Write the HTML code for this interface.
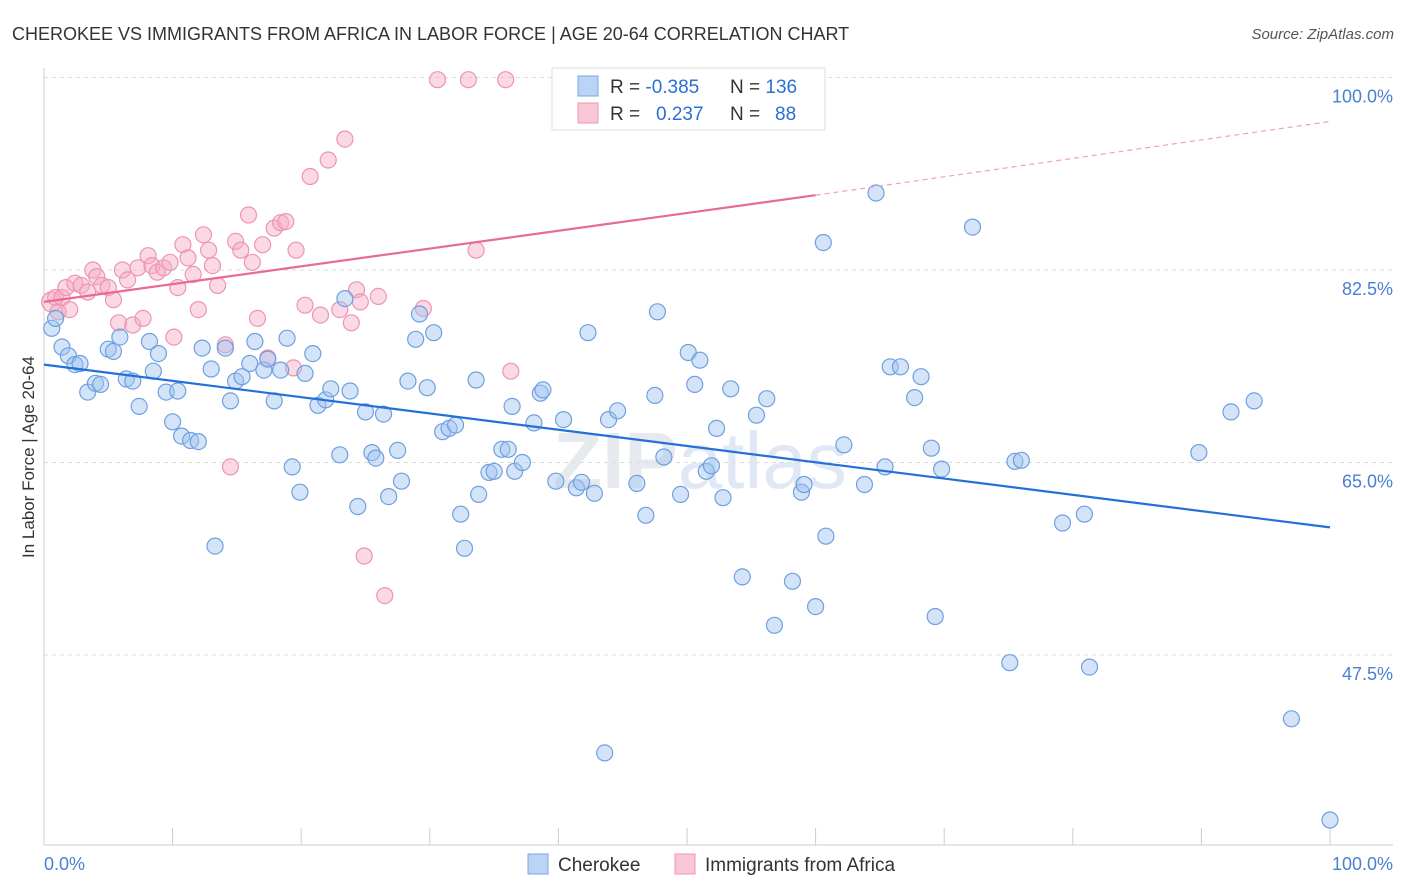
<!DOCTYPE html>
<html><head><meta charset="utf-8">
<style>
body{margin:0;background:#fff;font-family:"Liberation Sans",sans-serif;}
#wrap{position:relative;width:1406px;height:892px;overflow:hidden;}
</style></head>
<body>
<div id="wrap">
<svg id="chart" width="1406" height="892" xmlns="http://www.w3.org/2000/svg">
<text x="12" y="40" font-size="18" fill="#333">CHEROKEE VS IMMIGRANTS FROM AFRICA IN LABOR FORCE | AGE 20-64 CORRELATION CHART</text>
<text x="1394" y="39" font-size="15" fill="#555" font-style="italic" text-anchor="end">Source: ZipAtlas.com</text>
<text x="700" y="488" font-size="80" fill="#e6e9ee" text-anchor="middle" font-weight="bold">ZIP<tspan font-weight="normal" fill="#dfe8f4">atlas</tspan></text>
<g id="grid"></g>
<g id="axes"></g>
<g id="pinkpts"></g>
<g id="bluepts"></g>
<g id="lines"></g>
<text transform="translate(34,457) rotate(-90)" font-size="17" fill="#333" text-anchor="middle">In Labor Force | Age 20-64</text>
<text x="44" y="870" font-size="18" fill="#4a7fd4">0.0%</text>
<text x="1393" y="870" font-size="18" fill="#4a7fd4" text-anchor="end">100.0%</text>
<g>
<rect x="552" y="68" width="273" height="62" fill="#fff" stroke="#ddd"/>
<rect x="578" y="76" width="20" height="20" fill="#bcd4f4" stroke="#7aa6e6"/>
<rect x="578" y="103" width="20" height="20" fill="#f8c6d5" stroke="#ee94b2"/>
<text x="610" y="93" font-size="19" fill="#333">R = <tspan fill="#2a6fd6">-0.385</tspan><tspan x="730">N = </tspan><tspan fill="#2a6fd6">136</tspan></text>
<text x="610" y="120" font-size="19" fill="#333">R = <tspan x="656" fill="#2a6fd6">0.237</tspan><tspan x="730">N = </tspan><tspan x="775" fill="#2a6fd6">88</tspan></text>
</g>
<g>
<rect x="528" y="854" width="20" height="20" fill="#bcd4f4" stroke="#7aa6e6"/>
<text x="558" y="871" font-size="19" fill="#333">Cherokee</text>
<rect x="675" y="854" width="20" height="20" fill="#f8c6d5" stroke="#ee94b2"/>
<text x="705" y="871" font-size="19" fill="#333">Immigrants from Africa</text>
</g>
</svg>
</div>
<script>
const yTicks=[100,82.5,65,47.5];
const yTickLabels=["100.0%","82.5%","65.0%","47.5%"];
const xTicks=[0,10,20,30,40,50,60,70,80,90,100];
const blueX=[0.6,0.9,1.4,1.9,2.4,2.8,3.4,4.0,4.4,5.0,5.4,5.9,6.4,6.9,7.4,8.2,8.5,8.9,9.5,10.0,10.4,10.7,11.4,12.0,12.3,13.0,13.3,14.1,14.5,14.9,15.4,16.0,16.4,17.1,17.4,17.9,18.4,18.9,19.3,19.9,20.3,20.9,21.3,21.9,22.3,23.0,23.4,23.8,24.4,25.0,25.5,25.8,26.4,26.8,27.5,27.8,28.3,28.9,29.2,29.8,30.3,31.0,31.5,32.0,32.4,32.7,33.6,33.8,34.6,35.0,35.6,36.1,36.4,36.6,37.2,38.1,38.6,38.8,39.8,40.4,41.4,41.8,42.3,42.8,43.6,43.9,44.6,44.8,46.1,46.8,47.5,47.7,48.2,49.5,50.1,50.6,51.0,51.5,51.9,52.3,52.8,53.4,53.8,54.3,55.4,56.2,56.8,58.2,58.9,59.1,60.0,60.6,60.8,62.2,63.8,64.7,65.4,65.8,66.6,67.7,68.2,69.0,69.3,69.8,72.2,75.1,75.5,76.0,79.2,80.9,81.3,89.8,92.3,94.1,97.0,100];
const blueY=[77.2,78.1,75.5,74.7,73.9,74.0,71.4,72.2,72.1,75.3,75.1,76.4,72.6,72.4,70.1,76.0,73.3,74.9,71.4,68.7,71.5,67.4,67.0,66.9,75.4,73.5,57.4,75.4,70.6,72.4,72.8,74.0,76.0,73.4,74.4,70.6,73.4,76.3,64.6,62.3,73.1,74.9,70.2,70.7,71.7,65.7,79.9,71.5,61.0,69.6,65.9,65.4,69.4,61.9,66.1,63.3,72.4,76.2,78.5,71.8,76.8,67.8,68.1,68.4,60.3,57.2,72.5,62.1,64.1,64.2,66.2,66.2,70.1,64.2,65.0,68.6,71.3,71.6,63.3,68.9,62.7,63.2,76.8,62.2,38.6,68.9,69.7,99.8,63.1,60.2,71.1,78.7,65.5,62.1,75.0,72.1,74.3,64.2,64.7,68.1,61.8,71.7,99.8,54.6,69.3,70.8,50.2,54.2,62.3,63.0,51.9,85.0,58.3,66.6,63.0,89.5,64.6,73.7,73.7,70.9,72.8,66.3,51.0,64.4,86.4,46.8,65.1,65.2,59.5,60.3,46.4,65.9,69.6,70.6,41.7,32.5];
const pinkX=[0.6,0.9,1.1,1.4,1.7,2.0,2.4,2.9,3.4,3.8,4.1,4.5,5.0,5.4,5.8,6.1,6.5,6.9,7.3,7.7,8.1,8.4,8.8,9.3,9.8,10.1,10.4,10.8,11.2,11.6,12.0,12.4,12.8,13.1,13.5,14.1,14.5,14.9,15.3,15.9,16.2,16.6,17.0,17.4,17.9,18.4,18.8,19.4,19.6,20.3,20.7,21.5,22.1,23.0,23.4,23.9,24.3,24.6,24.9,26.0,26.5,29.5,30.6,33.0,33.6,35.9,36.3];
const pinkY=[79.6,80.0,78.7,80.0,80.9,78.9,81.3,81.1,80.5,82.5,81.9,81.1,80.9,79.8,77.7,82.5,81.6,77.5,82.7,78.1,83.8,82.9,82.3,82.7,83.2,76.4,80.9,84.8,83.6,82.1,78.9,85.7,84.3,82.9,81.1,75.7,64.6,85.1,84.3,87.5,83.2,78.1,84.8,74.5,86.3,86.8,86.9,73.6,84.3,79.3,91.0,78.4,92.5,78.9,94.4,77.7,80.7,79.6,56.5,80.1,52.9,79.0,99.8,99.8,84.3,99.8,73.3];
const blueTrend=[73.9,59.1];
const pinkTrend=[79.6,89.3,96.0];

const NS="http://www.w3.org/2000/svg";
const X0=44,X1=1330,YT=77.5,PX=11;
function sx(v){return X0+(X1-X0)*v/100;}
function sy(v){return YT+(100-v)*PX;}
function mk(tag,attrs,parent){const e=document.createElementNS(NS,tag);for(const k in attrs)e.setAttribute(k,attrs[k]);parent.appendChild(e);return e;}
const grid=document.getElementById('grid');
yTicks.forEach((t,i)=>{
  const l=mk('line',{x1:44,x2:1393,y1:sy(t),y2:sy(t),stroke:'#ddd','stroke-dasharray':'4,4'},grid);
  
  
  const tx=mk('text',{x:1393,y:sy(t)+25,'font-size':18,fill:'#4a7fd4','text-anchor':'end'},grid);
  tx.textContent=yTickLabels[i];
  
  
});
const axes=document.getElementById('axes');
let a=mk('line',{x1:44,x2:1393,y1:845,y2:845,stroke:'#ccc'},axes);


a=mk('line',{x1:44,x2:44,y1:68,y2:845,stroke:'#ccc'},axes);


xTicks.forEach(t=>{
  const l=mk('line',{x1:sx(t),x2:sx(t),y1:828,y2:845,stroke:'#ccc'},axes);
  
  
});
const pp=document.getElementById('pinkpts');
pinkX.forEach((x,i)=>{
  const c=mk('circle',{cx:sx(x),cy:sy(pinkY[i]),r:i==0?10:8,fill:'rgba(244,170,195,0.45)',stroke:'#ee94b2','stroke-width':1.2},pp);
  
  
});
const bp=document.getElementById('bluepts');
blueX.forEach((x,i)=>{
  const c=mk('circle',{cx:sx(x),cy:sy(blueY[i]),r:8,fill:'rgba(160,195,240,0.45)',stroke:'#6f9fe0','stroke-width':1.2},bp);
  
  
});
const lg=document.getElementById('lines');
let ln=mk('line',{x1:sx(0),y1:sy(blueTrend[0]),x2:sx(100),y2:sy(blueTrend[1]),stroke:'#2270d8','stroke-width':2.2},lg);


ln=mk('line',{x1:sx(0),y1:sy(pinkTrend[0]),x2:sx(60),y2:sy(pinkTrend[1]),stroke:'#e8699a','stroke-width':2.2},lg);


ln=mk('line',{x1:sx(60),y1:sy(pinkTrend[1]),x2:sx(100),y2:sy(pinkTrend[2]),stroke:'#eea0bd','stroke-width':1.2,'stroke-dasharray':'5,4'},lg);


</script>
</body></html>
